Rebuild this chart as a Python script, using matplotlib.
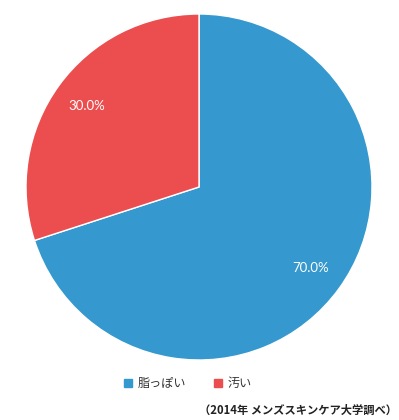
import matplotlib
matplotlib.use("Agg")
import matplotlib.pyplot as plt
from matplotlib.patches import Rectangle

categories = ["脂っぽい", "汚い"]
values = [70.0, 30.0]
colors = ["#3598CE", "#EC4E4F"]
source = "（2014年 メンズスキンケア大学調べ）"

plt.rcParams['font.family'] = ['Noto Sans CJK JP', 'DejaVu Sans']

fig = plt.figure(figsize=(3.99, 4.2), dpi=100)
ax = fig.add_axes([26/399, 60/420, 346/399, 346/420])
wedges, texts, autotexts = ax.pie(
    values, colors=colors, startangle=90, counterclock=False,
    autopct="%.1f%%", pctdistance=0.8,
    wedgeprops=dict(edgecolor="white", linewidth=1),
    textprops=dict(color="white", fontsize=9.5, family=['Lato', 'DejaVu Sans']))
ax.set_aspect("equal")
ax.set_xlim(-1, 1)
ax.set_ylim(-1, 1)

# legend
xs = [124, 214]
for x, c, lab in zip(xs, colors, categories):
    fig.patches.append(Rectangle((x/399, 1 - 387/420), 8/399, 8/420,
                                 transform=fig.transFigure, color=c))
    fig.text((x + 14)/399, 1 - 383/420, lab, fontsize=8.7, va="center",
             ha="left", color="#333333")

fig.text(397/399, 1 - 410/420, source, fontsize=8.1, fontweight="bold",
         ha="right", va="center", color="#222222")

fig.savefig("out.png", dpi=100)
